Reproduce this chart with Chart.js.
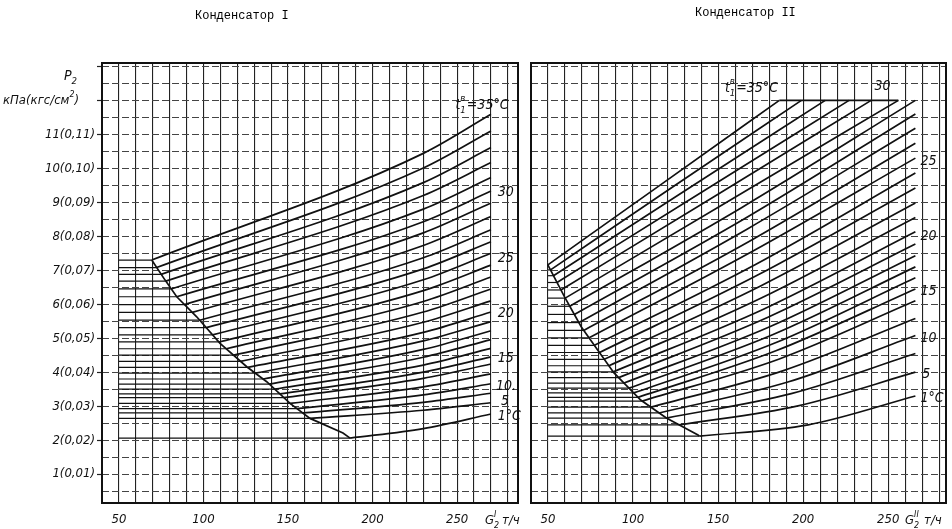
<!DOCTYPE html>
<html lang="ru">
<head>
<meta charset="utf-8">
<title>Конденсатор I / II</title>
<script src="https://cdn.jsdelivr.net/npm/chart.js@4.4.1/dist/chart.umd.min.js"></script>
<style>
  html, body { margin:0; padding:0; background:#fff; }
  #wrap { position:relative; width:952px; height:529px; overflow:hidden; background:#fff; }
  canvas { position:absolute; top:0; }
  #cv1 { left:0; }
  #cv2 { left:522px; }
  .ttl { position:absolute; font-family:'Liberation Mono','DejaVu Sans Mono',monospace; font-size:12px; color:#000; white-space:nowrap; }
</style>
</head>
<body>
<div id="wrap">
  <canvas id="cv1" width="522" height="529" style="width:522px;height:529px"></canvas>
  <canvas id="cv2" width="430" height="529" style="width:430px;height:529px"></canvas>
  <div class="ttl" style="left:195px;top:9px;">Конденсатор I</div>
  <div class="ttl" style="left:695px;top:6px;">Конденсатор II</div>
</div>
<script>
// ---------------- DATA ----------------
// cooling-water inlet temperature t1 (°C), one curve each
const temps = [1,5,8,10,12,14,15,16,17,18,19,20,21,22,23,24,25,26,27,28,29,30,31,32,33,34,35];
const levelStartX = 50;          // horizontal parts start at G2 = 50 t/h

// Конденсатор I
const levelP_I = [2.06,2.64,2.80,2.93,3.08,3.25,3.36,3.50,3.65,3.80,3.97,4.14,4.32,4.50,4.69,4.89,5.10,5.31,5.53,5.76,5.99,6.22,6.45,6.68,6.88,7.08,7.30];
const breakX_I = [186.7,163.0,158.7,155.2,151.2,147.5,145.2,142.1,138.9,135.3,130.7,126.1,121.9,117.8,113.5,109.1,105.4,101.7,97.8,93.4,88.8,84.2,80.9,77.7,75.0,72.3,69.4];
const midX_I   = [230,230,230,230,230,230,230,230,230,230,230,230,230,230,230,230,230,230,230,230,230,230,230,230,230,230,230];
const midP_I   = [2.34,2.88,3.11,3.33,3.57,3.82,4.00,4.21,4.44,4.67,4.92,5.17,5.47,5.77,6.08,6.40,6.72,7.04,7.37,7.73,8.10,8.43,8.80,9.20,9.58,10.01,10.44];
const endX_I   = [270,270,270,270,270,270,270,270,270,270,270,270,270,270,270,270,270,270,270,270,270,270,270,270,270,270,270];
const endP_I   = [2.77,3.10,3.38,3.66,3.95,4.24,4.45,4.70,4.96,5.22,5.49,5.77,6.10,6.45,6.80,7.15,7.50,7.84,8.19,8.58,8.98,9.33,9.73,10.17,10.61,11.10,11.59];
const boundX_I = [69.4,77.3,84.2,96.0,109.8,125.6,137.4,151.2,163.0,182.5,186.7];
const boundP_I = [7.30,6.71,6.22,5.63,4.85,4.16,3.72,3.08,2.64,2.21,2.06];

// Конденсатор II
const levelP_II = [2.12,2.45,2.65,2.80,2.97,3.15,3.26,3.39,3.53,3.68,3.84,4.01,4.19,4.38,4.58,4.79,5.01,5.23,5.46,5.70,5.94,6.18,6.42,6.64,6.84,7.01,7.16];
const breakX_II = [139.0,127.0,119.6,115.3,110.5,105.4,102.9,100.4,97.6,94.7,91.5,88.4,85.8,83.1,80.3,77.3,74.2,71.0,68.2,65.5,62.8,60.1,57.6,55.3,53.2,51.5,49.9];
const midX_II   = [203,197,193,191,188,186,184,183,182,180,179,177,176,175,173,172,170,169,167,166,164,158,149,141,133,125,118];
const midP_II   = [2.45,3.01,3.37,3.71,4.04,4.39,4.63,4.85,5.10,5.33,5.61,5.86,6.20,6.54,6.85,7.17,7.55,7.87,8.21,8.53,8.85,9.09,9.21,9.32,9.42,9.51,9.58];
const endX_II   = [266,266,266,266,266,266,266,266,266,266,266,266,266,266,266,266,266,266,266,266,266,256,240,227,213,199,186];
const endP_II   = [3.30,4.00,4.55,5.08,5.58,6.10,6.45,6.78,7.10,7.43,7.77,8.13,8.55,8.98,9.42,9.86,10.30,10.74,11.18,11.60,12.00,12,12,12,12,12,12];
const boundX_II = [49.9,59.8,69.6,88.8,104.5,119.6,138.2,139.0];
const boundP_II = [7.16,6.21,5.33,3.98,3.18,2.65,2.15,2.12];
const capX_II   = [186,256];
const capP_II   = [12,12];

// tick labels
const xTickValues = [50,100,150,200,250];
const xTickLabels = ['50','100','150','200','250'];
const yTickLabels = ['1(0,01)','2(0,02)','3(0,03)','4(0,04)','5(0,05)','6(0,06)','7(0,07)','8(0,08)','9(0,09)','10(0,10)','11(0,11)'];

// ---------------- STYLE ----------------
const INK = '#111';
const NARROW = "'Liberation Sans Narrow','DejaVu Sans Condensed','Liberation Sans',sans-serif";

function pts(xs, ys) { return xs.map((x, i) => ({x: x, y: ys[i]})); }

function buildDatasets(levelP, breakX, midX, midP, endX, endP, boundX, boundP, capX, capP) {
  const ds = [];
  for (let i = 0; i < temps.length; i++) {
    ds.push({label: 'level ' + temps[i], data: [{x: levelStartX, y: levelP[i]}, {x: breakX[i], y: levelP[i]}], borderWidth: 1.2, tension: 0});
    ds.push({label: 't1=' + temps[i], data: [{x: breakX[i], y: levelP[i]}, {x: midX[i], y: midP[i]}, {x: endX[i], y: endP[i]}], borderWidth: 1.7, cubicInterpolationMode: 'monotone'});
  }
  ds.push({label: 'boundary', data: pts(boundX, boundP), borderWidth: 1.7, tension: 0});
  if (capX) ds.push({label: 'cap', data: pts(capX, capP), borderWidth: 1.7, tension: 0});
  return ds.map(d => Object.assign({showLine: true, pointRadius: 0, borderColor: INK, fill: false}, d));
}

function drawRich(ctx, x, y, parts, size) {
  let cx = x;
  ctx.fillStyle = INK;
  ctx.textBaseline = 'alphabetic';
  ctx.textAlign = 'left';
  parts.forEach(p => {
    const r = p.r || 'n';
    const s = r === 'n' ? size : size * 0.68;
    ctx.font = 'italic ' + s + 'px ' + NARROW;
    let dy = 0;
    if (r === 'sub') dy = size * 0.32;
    if (r === 'sup') dy = -size * 0.55;
    ctx.fillText(p.t, cx, y + dy);
    if (!p.stack) cx += ctx.measureText(p.t).width + (p.gap || 0);
  });
}

const notesPlugin = {
  id: 'notes',
  afterDraw(chart, args, opts) {
    const {ctx, chartArea: a} = chart;
    ctx.save();
    ctx.strokeStyle = INK;
    ctx.lineWidth = 2;
    ctx.strokeRect(a.left, a.top, a.right - a.left, a.bottom - a.top);
    const xs = chart.scales.x, ys = chart.scales.y;
    (opts.dataNotes || []).forEach(n => {
      drawRich(ctx, xs.getPixelForValue(n.x), ys.getPixelForValue(n.y), n.parts, n.size);
    });
    (opts.pixelNotes || []).forEach(n => {
      drawRich(ctx, n.px, n.py, n.parts, n.size);
    });
    ctx.restore();
  }
};

function makeOptions(xMax, yAxisWidth, padRight, showY, dataNotes, pixelNotes) {
  return {
    responsive: false,
    animation: false,
    events: [],
    layout: {padding: {top: 63, right: padRight, bottom: 0, left: 0}},
    plugins: {
      legend: {display: false},
      tooltip: {enabled: false},
      notes: {dataNotes: dataNotes, pixelNotes: pixelNotes}
    },
    scales: {
      x: {
        type: 'linear', min: 40, max: xMax,
        afterBuildTicks(s) { const t = []; for (let v = 40; v <= 280; v += 10) t.push({value: v}); s.ticks = t; },
        afterFit(s) { s.height = 26; },
        grid: {color: '#222', lineWidth: 1.1, drawTicks: false},
        border: {display: false},
        ticks: {
          autoSkip: false, maxRotation: 0, padding: 9, color: INK,
          font: {family: NARROW, size: 13, style: 'italic'},
          callback(v) { const k = xTickValues.indexOf(v); return k >= 0 ? xTickLabels[k] : ''; }
        }
      },
      y: {
        type: 'linear', min: 0.15, max: 13.1,
        afterBuildTicks(s) { const t = []; for (let v = 0.5; v <= 13; v += 0.5) t.push({value: v}); s.ticks = t; },
        afterFit(s) { s.width = yAxisWidth; },
        grid: {
          color: '#444', lineWidth: 1, drawTicks: showY, tickLength: 5,
          tickColor: c => (c.tick && Number.isInteger(c.tick.value)) ? '#222' : 'rgba(0,0,0,0)',
          tickWidth: 1.2
        },
        border: {display: false, dash: [7, 3]},
        ticks: {
          display: showY, autoSkip: false, padding: 2, color: INK,
          font: {family: NARROW, size: 13, style: 'italic'},
          callback(v) { return (Number.isInteger(v) && v >= 1 && v <= 11) ? yTickLabels[v - 1] : ''; }
        }
      }
    }
  };
}

Chart.register(notesPlugin);

const notesI = [
  {x: 249, y: 11.75, size: 14, parts: [{t: 't'}, {t: 'в', r: 'sup', stack: true}, {t: '1', r: 'sub', gap: 1}, {t: '=35°C'}]},
  {x: 274, y: 9.19, size: 14, parts: [{t: '30'}]},
  {x: 274, y: 7.24, size: 14, parts: [{t: '25'}]},
  {x: 274, y: 5.62, size: 14, parts: [{t: '20'}]},
  {x: 274, y: 4.30, size: 14, parts: [{t: '15'}]},
  {x: 273, y: 3.48, size: 14, parts: [{t: '10.'}]},
  {x: 276, y: 3.04, size: 14, parts: [{t: '5'}]},
  {x: 274, y: 2.59, size: 14, parts: [{t: '1°C'}]}
];
const pixNotesI = [
  {px: 64, py: 80, size: 14, parts: [{t: 'P'}, {t: '2', r: 'sub'}]},
  {px: 3, py: 104, size: 13, parts: [{t: 'кПа(кгс/см'}, {t: '2', r: 'sup'}, {t: ')'}]},
  {px: 485, py: 524, size: 13, parts: [{t: 'G'}, {t: 'I', r: 'sup', stack: true}, {t: '2', r: 'sub', gap: 3}, {t: 'т/ч'}]}
];
const notesII = [
  {x: 154, y: 12.25, size: 14, parts: [{t: 't'}, {t: 'в', r: 'sup', stack: true}, {t: '1', r: 'sub', gap: 1}, {t: '=35°C'}]},
  {x: 242, y: 12.3, size: 14, parts: [{t: '30'}]},
  {x: 269, y: 10.1, size: 14, parts: [{t: '25'}]},
  {x: 269, y: 7.9, size: 14, parts: [{t: '20'}]},
  {x: 269, y: 6.27, size: 14, parts: [{t: '15'}]},
  {x: 269, y: 4.89, size: 14, parts: [{t: '10'}]},
  {x: 270, y: 3.83, size: 14, parts: [{t: '5'}]},
  {x: 269, y: 3.12, size: 14, parts: [{t: '1°C'}]}
];
const pixNotesII = [
  {px: 383, py: 524, size: 13, parts: [{t: 'G'}, {t: 'II', r: 'sup', stack: true}, {t: '2', r: 'sub', gap: 5}, {t: 'т/ч'}]}
];

new Chart(document.getElementById('cv1'), {
  type: 'scatter',
  data: {datasets: buildDatasets(levelP_I, breakX_I, midX_I, midP_I, endX_I, endP_I, boundX_I, boundP_I)},
  options: makeOptions(286, 102, 4, true, notesI, pixNotesI)
});

new Chart(document.getElementById('cv2'), {
  type: 'scatter',
  data: {datasets: buildDatasets(levelP_II, breakX_II, midX_II, midP_II, endX_II, endP_II, boundX_II, boundP_II, capX_II, capP_II)},
  options: makeOptions(284, 4, 6, false, notesII, pixNotesII)
});
</script>
</body>
</html>
